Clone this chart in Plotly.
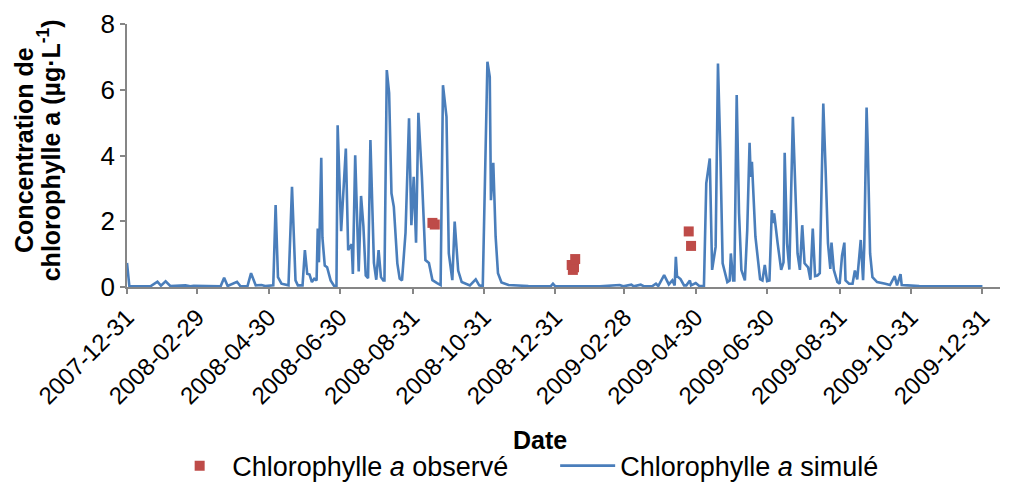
import pandas as pd
import plotly.graph_objects as go

START = "2007-12-31"

# Simulated chlorophyll a: days since 2007-12-31 and values (µg/L)
sim_day = [0, 2, 20, 26, 29, 33, 37, 50, 54, 57, 80, 83, 86, 94, 97, 103, 106, 110, 115, 118,
           125, 127, 129, 132, 138, 141, 144, 146, 150, 152, 154, 156, 158, 160, 162, 163, 164, 166, 167, 169,
           171, 174, 177, 179, 180, 183, 187, 189, 192, 193, 195, 198, 200, 202, 204, 206, 208, 211, 213, 215,
           217, 219, 220, 222, 224, 226, 228, 231, 233, 235, 238, 241, 243, 245, 247, 249, 252, 255, 258, 261,
           265, 268, 270, 273, 275, 278, 280, 283, 286, 293, 298, 301, 304, 308, 310, 311, 313, 315, 317, 320,
           326, 343, 362, 364, 366, 404, 421, 424, 431, 433, 439, 442, 449, 452, 454, 459, 463, 466, 468, 469,
           470, 473, 476, 478, 481, 482, 486, 489, 493, 495, 498, 499, 500, 503, 505, 507, 509, 513, 515, 516,
           518, 519, 521, 523, 525, 528, 530, 532, 533, 534, 537, 541, 543, 545, 547, 549, 551, 552, 553, 556,
           559, 561, 562, 564, 566, 569, 571, 573, 575, 577, 579, 582, 584, 586, 588, 590, 592, 595, 597, 599,
           601, 602, 604, 607, 609, 611, 613, 614, 617, 620, 622, 624, 627, 629, 630, 632, 633, 635, 637, 641,
           648, 652, 656, 658, 661, 662, 667, 677, 731]
sim_val = [0.73, 0.03, 0.02, 0.16, 0.04, 0.17, 0.03, 0.05, 0.02, 0.04, 0.02, 0.28, 0.03, 0.16, 0.02, 0.03, 0.42, 0.05, 0.06, 0.03,
           0.05, 2.49, 0.30, 0.10, 0.05, 3.05, 0.20, 0.05, 0.05, 1.12, 0.40, 0.38, 0.15, 0.25, 0.20, 1.78, 0.75, 3.93, 1.50, 0.65,
           0.60, 0.20, 0.03, 0.03, 4.92, 1.70, 4.21, 1.12, 1.30, 0.40, 4.01, 0.47, 2.77, 1.85, 0.35, 0.27, 4.47, 0.73, 0.22, 1.12,
           0.30, 0.20, 0.20, 6.60, 5.90, 2.85, 2.44, 0.72, 0.26, 0.20, 1.65, 5.13, 1.88, 3.35, 1.35, 5.30, 3.35, 0.82, 0.73, 0.21,
           0.12, 0.06, 6.14, 5.18, 1.02, 0.21, 1.99, 0.50, 0.15, 0.05, 0.23, 0.05, 0.02, 6.85, 6.39, 2.64, 3.78, 1.53, 0.42, 0.14,
           0.06, 0.03, 0.02, 0.10, 0.02, 0.02, 0.06, 0.02, 0.07, 0.02, 0.07, 0.02, 0.03, 0.10, 0.03, 0.36, 0.08, 0.20, 0.05, 0.92,
           0.33, 0.24, 0.05, 0.05, 0.20, 0.05, 0.12, 0.03, 0.03, 3.15, 3.91, 2.14, 0.52, 1.22, 6.80, 4.16, 0.72, 0.15, 0.20, 1.02,
           0.20, 0.20, 5.84, 2.24, 0.52, 0.20, 1.73, 4.39, 3.35, 3.81, 1.53, 0.24, 0.20, 0.67, 0.18, 0.20, 2.34, 1.94, 2.24, 1.33,
           0.52, 0.75, 4.08, 1.33, 0.53, 5.18, 2.95, 1.02, 0.52, 1.88, 0.72, 0.60, 0.22, 1.78, 0.33, 0.35, 0.42, 5.58, 3.56, 1.33,
           0.55, 1.35, 0.52, 0.15, 0.10, 0.95, 1.35, 0.20, 0.10, 0.10, 0.50, 0.23, 1.43, 0.21, 1.22, 5.46, 4.26, 1.02, 0.30, 0.15,
           0.10, 0.06, 0.33, 0.05, 0.39, 0.06, 0.05, 0.03, 0.02]

# Observed chlorophyll a
obs_day = [261, 263, 380, 381, 382, 383, 480, 482]
obs_val = [1.95, 1.90, 0.67, 0.52, 0.60, 0.85, 1.69, 1.25]

tick_dates = ["2007-12-31", "2008-02-29", "2008-04-30", "2008-06-30", "2008-08-31", "2008-10-31",
              "2008-12-31", "2009-02-28", "2009-04-30", "2009-06-30", "2009-08-31", "2009-10-31",
              "2009-12-31"]
y_ticks = [0, 2, 4, 6, 8]

start = pd.Timestamp(START)
sim_x = start + pd.to_timedelta(sim_day, unit="D")
obs_x = start + pd.to_timedelta(obs_day, unit="D")

FONT = "Liberation Sans, Arial, sans-serif"
AXIS_GREY = "#868686"

fig = go.Figure()
fig.add_trace(go.Scatter(
    x=obs_x, y=obs_val, mode="markers",
    name="Chlorophylle <i>a</i> observé",
    marker=dict(symbol="square", size=10, color="#BE4B48"),
))
fig.add_trace(go.Scatter(
    x=sim_x, y=sim_val, mode="lines",
    name="Chlorophylle <i>a</i> simulé",
    line=dict(color="#4A7EBB", width=2.6),
))

fig.update_layout(
    width=1013, height=482,
    margin=dict(l=127, r=13, t=24, b=195, autoexpand=False),
    paper_bgcolor="white", plot_bgcolor="white",
    font=dict(family=FONT, size=24, color="black"),
    showlegend=True,
    legend=dict(orientation="h", x=0.046, xanchor="left", y=-0.681, yanchor="middle",
                font=dict(size=27), itemwidth=55, entrywidth=318, entrywidthmode="pixels",
                traceorder="normal"),
    xaxis=dict(
        type="date", range=["2007-12-31", "2010-01-15"], automargin=False,
        tickmode="array", tickvals=tick_dates, ticktext=tick_dates,
        tickangle=-45, ticks="outside", ticklen=5, tickcolor=AXIS_GREY, tickwidth=1.5,
        showline=True, linecolor=AXIS_GREY, linewidth=1.5,
        showgrid=False, zeroline=False, tickfont=dict(size=24),
    ),
    yaxis=dict(
        range=[0, 8], tickmode="array", tickvals=y_ticks, automargin=False,
        ticks="outside", ticklen=5, tickcolor=AXIS_GREY, tickwidth=1.5,
        showline=True, linecolor=AXIS_GREY, linewidth=1.5,
        showgrid=False, zeroline=False, tickfont=dict(size=26),
    ),
    annotations=[
        dict(text="<b>Date</b>", xref="paper", yref="paper", x=0.473, y=-0.582,
             showarrow=False, font=dict(size=25), xanchor="center", yanchor="middle"),
        dict(text="<b>Concentration de</b>", xref="paper", yref="paper", x=-0.118, y=0.521,
             textangle=-90, showarrow=False, font=dict(size=25), xanchor="center", yanchor="middle"),
        dict(text="<b>chlorophylle a (µg·L<sup>-1</sup>)</b>", xref="paper", yref="paper", x=-0.089, y=0.521,
             textangle=-90, showarrow=False, font=dict(size=25), xanchor="center", yanchor="middle"),
    ],
)

fig.write_html("out.html")
